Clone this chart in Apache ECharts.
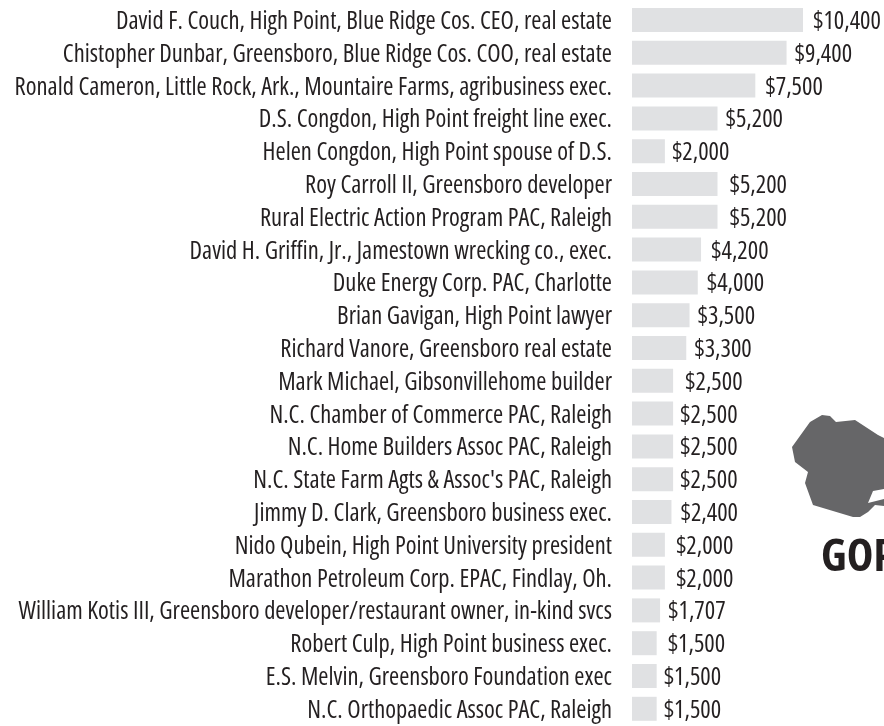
<!DOCTYPE html>
<html>
<head>
<meta charset="utf-8">
<script src="https://cdn.jsdelivr.net/npm/echarts@6/dist/echarts.min.js"></script>
<style>
  html, body { margin: 0; background: #fff; }
  #chart { width: 884px; height: 726px; }
</style>
</head>
<body>
<div id="chart"></div>
<script>
const donors = [
  "David F. Couch, High Point, Blue Ridge Cos. CEO, real estate",
  "Chistopher Dunbar, Greensboro, Blue Ridge Cos. COO, real estate",
  "Ronald Cameron, Little Rock, Ark., Mountaire Farms, agribusiness exec.",
  "D.S. Congdon, High Point freight line exec.",
  "Helen Congdon, High Point spouse of D.S.",
  "Roy Carroll II, Greensboro developer",
  "Rural Electric Action Program PAC, Raleigh",
  "David H. Griffin, Jr., Jamestown wrecking co., exec.",
  "Duke Energy Corp. PAC, Charlotte",
  "Brian Gavigan, High Point lawyer",
  "Richard Vanore, Greensboro real estate",
  "Mark Michael, Gibsonvillehome builder",
  "N.C. Chamber of Commerce PAC, Raleigh",
  "N.C. Home Builders Assoc PAC, Raleigh",
  "N.C. State Farm Agts & Assoc's PAC, Raleigh",
  "Jimmy D. Clark, Greensboro business exec.",
  "Nido Qubein, High Point University president",
  "Marathon Petroleum Corp. EPAC, Findlay, Oh.",
  "William Kotis III, Greensboro developer/restaurant owner, in-kind svcs",
  "Robert Culp, High Point business exec.",
  "E.S. Melvin, Greensboro Foundation exec",
  "N.C. Orthopaedic Assoc PAC, Raleigh"
];
const amounts = [10400, 9400, 7500, 5200, 2000, 5200, 5200, 4200, 4000, 3500, 3300,
  2500, 2500, 2500, 2500, 2400, 2000, 2000, 1707, 1500, 1500, 1500];
// the hand-set gaps between bar and amount in the original
const labelGaps = [10, 8, 10, 8, 7, 12, 12, 10, 9, 8, 8, 12, 7, 7, 7, 9, 11, 11, 8, 11, 7, 7];

const inkColor = "#231f20";
const fontName = "'Open Sans', sans-serif";
const fontSize = 24.5;

const chart = echarts.init(document.getElementById("chart"), null, { renderer: "canvas" });
chart.setOption({
  animation: false,
  backgroundColor: "#fff",
  grid: { left: 632, top: 3.6, width: 171, height: 721.6, outerBoundsMode: "none" },
  xAxis: { type: "value", min: 0, max: 10400, show: false },
  yAxis: {
    type: "category",
    inverse: true,
    data: donors,
    axisLine: { show: false },
    axisTick: { show: false },
    axisLabel: {
      color: inkColor,
      fontFamily: fontName,
      fontWeight: "condensed",
      fontSize: fontSize,
      margin: 20,
      align: "right",
      verticalAlign: "top",
      lineHeight: 4,
      interval: 0
    }
  },
  series: [
    {
      type: "bar",
      barWidth: 24,
      itemStyle: { color: "#e0e1e3" },
      data: amounts.map((v, i) => ({
        value: v,
        label: {
          show: true,
          position: "right",
          distance: labelGaps[i],
          offset: [0, 2],
          color: inkColor,
          fontFamily: fontName,
          fontWeight: "condensed",
          fontSize: fontSize,
          formatter: "$" + v.toLocaleString("en-US")
        }
      }))
    }
  ],
  graphic: [
    {
      type: "polygon",
      shape: {
        points: [
          [792, 447], [810, 422], [822, 415], [830, 416], [836, 422], [855, 420],
          [878, 435], [884, 438], [884, 489], [873, 491], [868, 503], [884, 499],
          [884, 506], [875, 505], [868, 512], [860, 517], [853, 517], [813, 505],
          [805, 483], [808, 472], [795, 462]
        ]
      },
      style: { fill: "#666668" }
    },
    {
      type: "text",
      left: 821,
      top: 536,
      style: {
        text: "GOP",
        fill: inkColor,
        font: "condensed bold 45px " + fontName
      }
    }
  ]
});
</script>
</body>
</html>
